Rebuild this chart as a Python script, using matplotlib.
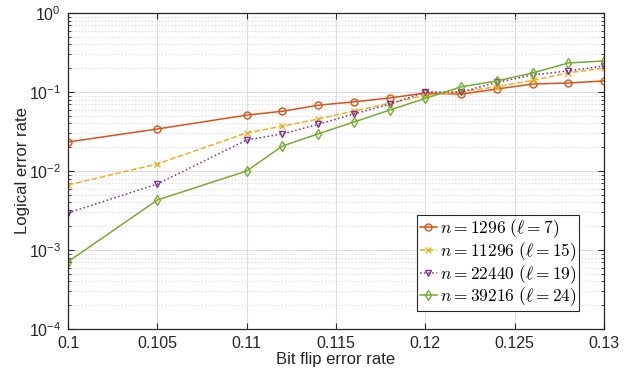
import math

import matplotlib
matplotlib.use("Agg")
import matplotlib.pyplot as plt
from matplotlib.font_manager import FontProperties
from matplotlib.ticker import LogLocator, FixedLocator, FuncFormatter, NullFormatter

plt.rcParams["font.family"] = ["Liberation Sans", "DejaVu Sans"]
plt.rcParams["mathtext.fontset"] = "custom"
plt.rcParams["mathtext.rm"] = "Liberation Sans"
plt.rcParams["mathtext.it"] = "Liberation Sans:italic"

# Bit flip error rates sampled
p = [0.1, 0.105, 0.11, 0.112, 0.114, 0.116, 0.118, 0.12,
     0.122, 0.124, 0.126, 0.128, 0.13]

# Logical error rates per code size
err_1296 = [0.0233, 0.034, 0.051, 0.057, 0.068, 0.075, 0.084, 0.097,
            0.094, 0.109, 0.126, 0.13, 0.138]
err_11296 = [0.00665, 0.0123, 0.0303, 0.037, 0.0455, 0.0575, 0.072, 0.091,
             0.1, 0.117, 0.14, 0.175, 0.2]
err_22440 = [0.00295, 0.00684, 0.0247, 0.0294, 0.039, 0.0526, 0.07, 0.1,
             0.1, 0.132, 0.164, 0.185, 0.213]
err_39216 = [0.00071, 0.0043, 0.01, 0.0207, 0.0295, 0.0417, 0.059, 0.083,
             0.116, 0.138, 0.174, 0.233, 0.247]

labels = [
    r"$n = 1296\ (\ell = 7)$",
    r"$n = 11296\ (\ell = 15)$",
    r"$n = 22440\ (\ell = 19)$",
    r"$n = 39216\ (\ell = 24)$",
]
x_ticks = [0.1, 0.105, 0.11, 0.115, 0.12, 0.125, 0.13]
x_tick_labels = ["0.1", "0.105", "0.11", "0.115", "0.12", "0.125", "0.13"]

series = [err_1296, err_11296, err_22440, err_39216]
colors = ["#D95319", "#EDB120", "#7E2F8E", "#77AC30"]
styles = ["-", "--", ":", "-"]
markers = ["o", "x", "v", "d"]

fig = plt.figure(figsize=(6.43, 3.70), dpi=100)
ax = fig.add_axes([0.1058, 0.1108, 0.8335, 0.8541])

for y, c, ls, m, lab in zip(series, colors, styles, markers, labels):
    ax.plot(p, y, color=c, linestyle=ls, marker=m, markersize=5,
            markerfacecolor="none", markeredgewidth=1.0, linewidth=1.1,
            label=lab)

ax.set_yscale("log")
ax.set_xlim(0.1, 0.13)
ax.set_ylim(1e-4, 1)
ax.xaxis.set_major_locator(FixedLocator(x_ticks))
ax.set_xticklabels(x_tick_labels)
ax.yaxis.set_major_locator(LogLocator(base=10, numticks=10))
ax.yaxis.set_minor_locator(LogLocator(base=10, subs=range(2, 10), numticks=10))
ax.yaxis.set_minor_formatter(NullFormatter())
ax.yaxis.set_major_formatter(
    FuncFormatter(lambda v, pos: r"$10^{%d}$" % round(math.log10(v))))

ax.grid(True, which="major", color="#dedede", linewidth=0.8, linestyle="-")
ax.grid(True, which="minor", axis="y", color="#d8d8d8", linewidth=0.8,
        linestyle=(0, (1, 2)))
ax.set_axisbelow(True)

ax.tick_params(which="both", direction="in", top=True, right=True,
               color="#262626", labelsize=11.5, labelcolor="#262626")
ax.tick_params(which="major", length=4, pad=5)
ax.tick_params(which="minor", length=2)
for s in ax.spines.values():
    s.set_color("#262626")
    s.set_linewidth(0.9)

ax.set_xlabel("Bit flip error rate", fontsize=12, color="#262626", labelpad=1)
ax.set_ylabel("Logical error rate", fontsize=12, color="#262626", labelpad=-1)

leg = ax.legend(loc="lower right", bbox_to_anchor=(0.953, 0.057),
                prop=FontProperties(size=12.5, math_fontfamily="cm"),
                fancybox=False, framealpha=1, edgecolor="#262626",
                handlelength=1.0, handletextpad=0.15, borderpad=0.15,
                labelspacing=0.0, borderaxespad=0.0)
leg.get_frame().set_linewidth(0.8)

fig.savefig("out.png", dpi=100)
